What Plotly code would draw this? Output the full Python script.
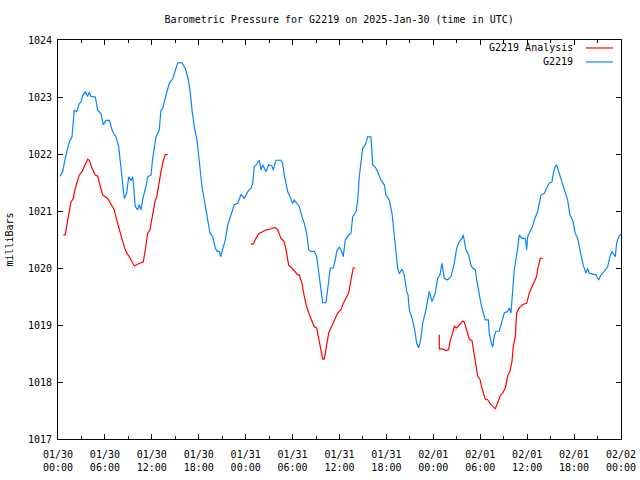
import pandas as pd
import plotly.graph_objects as go

START = pd.Timestamp("2025-01-30 00:00")

# Observed G2219 pressure: hours since 2025-01-30 00:00 UTC, milliBars
obs_hours = [0.26, 0.60, 0.93, 1.24, 1.45, 1.79, 1.96, 2.08, 2.39, 2.72, 2.94, 3.16, 3.49, 3.80, 4.00, 4.22,
             4.77, 5.08, 5.50, 5.79, 6.14, 6.56, 6.99, 7.42, 7.76, 8.06, 8.27, 8.48, 8.78, 9.04, 9.34, 9.55,
             9.68, 9.88, 10.19, 10.40, 10.61, 10.91, 11.25, 11.47, 11.89, 12.11, 12.53, 12.95, 13.17, 13.39,
             13.81, 14.23, 14.67, 15.00, 15.31, 15.86, 16.28, 16.59, 16.88, 17.14, 17.43, 17.78, 18.07, 18.41,
             18.71, 18.93, 19.14, 19.44, 19.78, 20.12, 20.33, 20.63, 20.80, 21.06, 21.39, 21.70, 22.12, 22.54,
             22.98, 23.40, 23.82, 24.26, 24.68, 24.90, 25.10, 25.32, 25.74, 25.96, 26.18, 26.60, 26.94, 27.37,
             27.53, 27.88, 28.52, 28.73, 28.94, 29.16, 29.37, 29.67, 30.01, 30.22, 30.65, 30.86, 31.20, 31.50,
             31.80, 32.06, 32.35, 32.78, 33.08, 33.34, 33.63, 33.85, 34.27, 34.49, 34.82, 35.20, 35.46, 35.64,
             35.97, 36.28, 36.48, 36.74, 37.17, 37.47, 37.69, 38.11, 38.33, 38.53, 38.75, 38.96, 39.30, 39.60,
             40.03, 40.24, 40.54, 40.88, 41.30, 41.73, 41.94, 42.37, 42.71, 43.01, 43.22, 43.44, 43.64, 43.99,
             44.28, 44.59, 44.76, 44.92, 45.27, 45.61, 45.87, 46.13, 46.38, 46.64, 47.06, 47.28, 47.48, 47.83,
             48.25, 48.56, 48.85, 49.10, 49.40, 49.83, 50.26, 50.68, 50.98, 51.32, 51.66, 51.83, 51.96, 52.17,
             52.52, 52.81, 53.03, 53.36, 53.54, 53.80, 54.09, 54.39, 54.64, 55.03, 55.15, 55.37, 55.59, 55.79,
             56.01, 56.43, 56.78, 57.07, 57.51, 57.71, 57.93, 58.15, 58.35, 58.79, 58.99, 59.34, 59.76, 59.94,
             60.06, 60.36, 60.61, 60.91, 61.34, 61.76, 62.19, 62.49, 62.83, 63.17, 63.34, 63.59, 63.77, 64.03,
             64.32, 64.74, 65.18, 65.47, 65.82, 66.15, 66.46, 66.88, 67.17, 67.52, 67.74, 67.94, 68.38, 68.80,
             69.14, 69.44, 69.86, 70.29, 70.59, 70.84, 71.27, 71.44, 71.70, 72.00]
obs_mb = [1021.61, 1021.69, 1021.93, 1022.13, 1022.21, 1022.30, 1022.59, 1022.77, 1022.74, 1022.89, 1022.91,
          1023.03, 1023.09, 1023.01, 1023.09, 1023.01, 1023.00, 1022.77, 1022.71, 1022.51, 1022.59, 1022.59,
          1022.39, 1022.30, 1022.13, 1021.72, 1021.43, 1021.22, 1021.31, 1021.60, 1021.54, 1021.60, 1021.43,
          1021.08, 1021.02, 1021.11, 1021.02, 1021.25, 1021.43, 1021.60, 1021.63, 1021.92, 1022.30, 1022.42,
          1022.77, 1022.80, 1023.03, 1023.24, 1023.32, 1023.47, 1023.60, 1023.60, 1023.50, 1023.35, 1023.12,
          1022.77, 1022.48, 1022.24, 1021.84, 1021.43, 1021.19, 1021.02, 1020.81, 1020.61, 1020.55, 1020.35,
          1020.29, 1020.29, 1020.20, 1020.32, 1020.49, 1020.75, 1020.93, 1021.11, 1021.13, 1021.29, 1021.22,
          1021.34, 1021.40, 1021.49, 1021.78, 1021.81, 1021.89, 1021.72, 1021.81, 1021.69, 1021.81, 1021.79,
          1021.72, 1021.89, 1021.89, 1021.84, 1021.63, 1021.49, 1021.34, 1021.25, 1021.13, 1021.19, 1021.11,
          1021.08, 1020.90, 1020.78, 1020.61, 1020.32, 1020.29, 1020.29, 1020.20, 1019.94, 1019.62, 1019.39,
          1019.39, 1019.62, 1020.00, 1020.00, 1020.14, 1020.29, 1020.37, 1020.29, 1020.20, 1020.49, 1020.58,
          1020.61, 1020.90, 1020.99, 1021.19, 1021.60, 1021.84, 1022.10, 1022.16, 1022.30, 1022.30, 1021.81,
          1021.78, 1021.69, 1021.54, 1021.46, 1021.28, 1021.19, 1020.96, 1020.58, 1020.23, 1020.00, 1019.90,
          1019.98, 1019.88, 1019.59, 1019.53, 1019.27, 1019.12, 1018.92, 1018.68, 1018.60, 1018.74, 1019.03,
          1019.27, 1019.41, 1019.59, 1019.41, 1019.56, 1019.82, 1019.88, 1020.08, 1019.82, 1019.79, 1019.85,
          1020.08, 1020.35, 1020.46, 1020.52, 1020.58, 1020.46, 1020.32, 1020.23, 1020.05, 1020.00, 1019.97,
          1019.79, 1019.56, 1019.38, 1019.21, 1019.09, 1019.09, 1018.86, 1018.71, 1018.61, 1018.80, 1018.89,
          1018.89, 1019.06, 1019.21, 1019.24, 1019.30, 1019.21, 1019.56, 1019.97, 1020.35, 1020.58, 1020.52,
          1020.52, 1020.32, 1020.55, 1020.64, 1020.70, 1020.84, 1020.99, 1021.28, 1021.31, 1021.40, 1021.49,
          1021.51, 1021.66, 1021.78, 1021.81, 1021.69, 1021.57, 1021.37, 1021.19, 1020.93, 1020.84, 1020.61,
          1020.52, 1020.23, 1020.05, 1019.91, 1019.99, 1019.91, 1019.89, 1019.88, 1019.79, 1019.88, 1019.94,
          1020.02, 1020.20, 1020.29, 1020.20, 1020.43, 1020.55, 1020.59]

# Analysis segments (gaps between them)
ana1_hours = [0.68, 0.93, 1.24, 1.66, 1.96, 2.21, 2.72, 3.07, 3.36, 3.80, 4.00, 4.35, 4.77, 5.08, 5.41, 5.72,
              6.36, 6.78, 7.20, 7.51, 7.84, 8.18, 8.48, 8.79, 9.12, 9.46, 9.76, 10.40, 10.91, 11.16, 11.47,
              11.76, 12.11, 12.44, 12.62, 12.88, 13.17, 13.47, 13.72, 14.03]
ana1_mb = [1020.58, 1020.58, 1020.84, 1021.16, 1021.22, 1021.40, 1021.63, 1021.69, 1021.78, 1021.91, 1021.89,
           1021.75, 1021.63, 1021.61, 1021.43, 1021.28, 1021.22, 1021.13, 1021.02, 1020.84, 1020.67, 1020.49,
           1020.37, 1020.26, 1020.20, 1020.11, 1020.04, 1020.08, 1020.11, 1020.32, 1020.61, 1020.67, 1020.93,
           1021.19, 1021.24, 1021.49, 1021.69, 1021.89, 1021.99, 1021.99]
ana2_hours = [24.68, 24.97, 25.32, 25.66, 26.09, 26.60, 27.11, 27.37, 27.79, 28.10, 28.52, 28.94, 29.16, 29.50,
              29.92, 30.35, 30.65, 30.86, 31.20, 31.50, 31.80, 32.14, 32.48, 32.78, 33.08, 33.34, 33.63, 33.85,
              34.05, 34.27, 34.62, 34.91, 35.20, 35.46, 35.77, 36.19, 36.48, 36.83, 37.17, 37.47, 37.76, 38.02]
ana2_mb = [1020.42, 1020.42, 1020.52, 1020.60, 1020.63, 1020.67, 1020.68, 1020.70, 1020.71, 1020.67, 1020.52,
           1020.46, 1020.32, 1020.05, 1020.00, 1019.94, 1019.88, 1019.88, 1019.73, 1019.50, 1019.32, 1019.18,
           1019.06, 1018.97, 1018.95, 1018.74, 1018.51, 1018.40, 1018.40, 1018.57, 1018.86, 1018.95, 1019.03,
           1019.12, 1019.21, 1019.27, 1019.38, 1019.47, 1019.56, 1019.79, 1020.00, 1020.00]
ana3_hours = [48.76, 48.77, 49.19, 49.62, 49.96, 50.13, 50.47, 50.68, 50.98, 51.32, 51.75, 51.96, 52.26, 52.60,
              52.94, 53.11, 53.36, 53.67, 53.96, 54.22, 54.64, 54.95, 55.24, 55.59, 55.92, 56.23, 56.52, 56.87,
              57.20, 57.51, 57.80, 58.06, 58.22, 58.48, 58.66, 58.99, 59.42, 59.94, 60.27, 60.61, 60.91, 61.21,
              61.34, 61.55, 61.67, 61.98]
ana3_mb = [1018.83, 1018.58, 1018.58, 1018.55, 1018.57, 1018.71, 1018.86, 1018.98, 1018.95, 1019.01, 1019.07,
           1019.05, 1018.89, 1018.75, 1018.73, 1018.57, 1018.33, 1018.10, 1018.05, 1017.89, 1017.70, 1017.69,
           1017.63, 1017.57, 1017.53, 1017.63, 1017.75, 1017.81, 1017.89, 1018.10, 1018.19, 1018.36, 1018.62,
           1018.80, 1019.21, 1019.30, 1019.36, 1019.38, 1019.56, 1019.67, 1019.76, 1019.85, 1019.97, 1020.11,
           1020.17, 1020.17]

tick_hours = [0, 6, 12, 18, 24, 30, 36, 42, 48, 54, 60, 66, 72]
tick_labels = ["01/30<br>00:00", "01/30<br>06:00", "01/30<br>12:00", "01/30<br>18:00",
               "01/31<br>00:00", "01/31<br>06:00", "01/31<br>12:00", "01/31<br>18:00",
               "02/01<br>00:00", "02/01<br>06:00", "02/01<br>12:00", "02/01<br>18:00",
               "02/02<br>00:00"]
y_ticks = [1017, 1018, 1019, 1020, 1021, 1022, 1023, 1024]

RED = "#ff0000"
BLUE = "#0a84ff"
FONT = "DejaVu Sans Mono"


def to_time(hours):
    return [None if h is None else START + pd.Timedelta(hours=h) for h in hours]


ana_hours = ana1_hours + [None] + ana2_hours + [None] + ana3_hours
ana_mb = ana1_mb + [None] + ana2_mb + [None] + ana3_mb

fig = go.Figure()
fig.add_trace(go.Scatter(x=to_time(ana_hours), y=ana_mb, mode="lines", name="G2219 Analysis",
                         line=dict(color=RED, width=1.2), connectgaps=False, showlegend=False))
fig.add_trace(go.Scatter(x=to_time(obs_hours), y=obs_mb, mode="lines", name="G2219",
                         line=dict(color=BLUE, width=1.2), showlegend=False))

fig.update_layout(
    width=640, height=480,
    margin=dict(l=58, r=19, t=40, b=41, autoexpand=False),
    paper_bgcolor="white", plot_bgcolor="white",
    font=dict(family=FONT, size=10, color="black"),
    title=dict(text="Barometric Pressure for G2219 on 2025-Jan-30 (time in UTC)",
               x=0.530, xanchor="center", y=1 - 19 / 480, yanchor="middle",
               font=dict(family=FONT, size=10, color="black")),
    xaxis=dict(
        range=[START, START + pd.Timedelta(hours=72)],
        tickvals=to_time(tick_hours), ticktext=tick_labels,
        ticks="inside", ticklen=5, tickcolor="black",
        minor=dict(dtick=3 * 3600000, ticks="inside", ticklen=3, tickcolor="black"),
        showline=True, linecolor="black", linewidth=1, mirror="allticks",
        showgrid=False, zeroline=False, automargin=False, ticklabelstandoff=6,
        tickfont=dict(family=FONT, size=10),
    ),
    yaxis=dict(
        range=[1017, 1024], tickvals=y_ticks,
        ticks="inside", ticklen=5, tickcolor="black",
        showline=True, linecolor="black", linewidth=1, mirror="allticks",
        showgrid=False, zeroline=False, automargin=False, ticklabelstandoff=3,
        tickfont=dict(family=FONT, size=10),
        title=dict(text="milliBars", font=dict(family=FONT, size=10), standoff=12),
    ),
    annotations=[
        dict(text="G2219 Analysis", xref="paper", yref="paper", x=0.918, y=0.980,
             xanchor="right", yanchor="middle", showarrow=False, font=dict(family=FONT, size=10)),
        dict(text="G2219", xref="paper", yref="paper", x=0.918, y=0.945,
             xanchor="right", yanchor="middle", showarrow=False, font=dict(family=FONT, size=10)),
    ],
    shapes=[
        dict(type="line", xref="paper", yref="paper", x0=0.9378, x1=0.9858, y0=0.980, y1=0.980,
             line=dict(color=RED, width=1.2)),
        dict(type="line", xref="paper", yref="paper", x0=0.9378, x1=0.9858, y0=0.945, y1=0.945,
             line=dict(color=BLUE, width=1.2)),
    ],
)

fig.write_html("out.html", config={"displayModeBar": False},
               post_script="document.body.style.margin='0px';")
